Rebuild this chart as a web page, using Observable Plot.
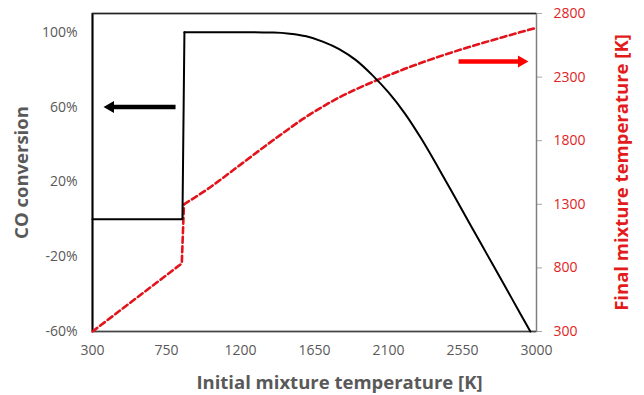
<!DOCTYPE html>
<html>
<head>
<meta charset="utf-8">
<script src="https://cdn.jsdelivr.net/npm/d3@7"></script>
<script src="https://cdn.jsdelivr.net/npm/@observablehq/plot@0.6"></script>
<style>
  body { margin: 0; background: #fff; }
</style>
</head>
<body>
<div id="chart"></div>
<script>
// CO conversion (left axis, %) versus initial mixture temperature [K]
const convTemp = [300, 847, 859, 1000, 1200, 1400, 1500, 1600, 1700, 1800, 1900, 2000, 2100, 2200, 2300, 2400, 2500, 2600, 2700, 2800, 2900, 2963];
const convValue = [0, 0, 100, 100, 100, 99.8, 99.2, 97.8, 95.0, 91.0, 85.2, 77.2, 67.8, 56.5, 43, 28, 12.4, -3.3, -18.9, -34.5, -50.2, -60];

// Final mixture temperature (right axis, K) versus initial mixture temperature [K]
const finalTempX = [300, 843, 856, 1000, 1200, 1400, 1600, 1800, 2000, 2200, 2400, 2600, 2800, 3000];
const finalTempK = [300, 835, 1300, 1420, 1612, 1805, 1988, 2140, 2260, 2365, 2458, 2540, 2616, 2688];

// Ignition jump: the lines are straight up to here and smooth after it
const jumpTop = 860;

// Axis ticks
const xTicks = [300, 750, 1200, 1650, 2100, 2550, 3000];
const leftTicks = [-60, -20, 20, 60, 100];
const rightTicks = [300, 800, 1300, 1800, 2300, 2800];

// Direction arrows pointing to each series' axis
const arrowSide = ["left", "right"];
const arrowTail = [805, 2526];
const arrowHeadBase = [420, 2900];
const arrowTip = [367, 2951];
const arrowLevel = [60, 2423];          // left arrow in %, right arrow in K

const leftDomain = [-60, 110];
const rightDomain = [300, 2800];
const k = (leftDomain[1] - leftDomain[0]) / (rightDomain[1] - rightDomain[0]);
const toLeft = (v) => leftDomain[0] + (v - rightDomain[0]) * k;
const fromLeft = (v) => rightDomain[0] + (v - leftDomain[0]) / k;

const conv = convTemp.map((t, i) => ({t, v: convValue[i]}));
const fin = finalTempX.map((t, i) => ({t, v: toLeft(finalTempK[i])}));
const arrows = arrowSide.map((side, i) => ({
  side,
  tail: arrowTail[i],
  base: arrowHeadBase[i],
  tip: arrowTip[i],
  y: side === "left" ? arrowLevel[i] : toLeft(arrowLevel[i]),
  color: side === "left" ? "#000" : "#ff0000"
}));

const grey = "#595959";
const red = "#e3131b";
const titleFont = 18.5;

const chart = Plot.plot({
  width: 644,
  height: 395,
  marginLeft: 92,
  marginRight: 108,
  marginTop: 13,
  marginBottom: 64,
  style: {fontFamily: "'Open Sans', sans-serif", fontSize: "14px", color: grey, background: "#fff"},
  x: {domain: [300, 3000]},
  y: {domain: leftDomain},
  marks: [
    Plot.axisX({ticks: xTicks, tickSize: 0, tickPadding: 14, tickFormat: (d) => String(d), label: null, fill: grey}),
    Plot.axisY({ticks: leftTicks, tickSize: 0, tickPadding: 15, tickFormat: (d) => d + "%", label: null, fill: grey}),
    Plot.axisY({
      anchor: "right",
      ticks: rightTicks.map(toLeft),
      tickFormat: (v) => String(Math.round(fromLeft(v))),
      tickSize: 5,
      tickPadding: 12,
      fill: "#e02424",
      stroke: "#a6a6a6",
      label: null
    }),
    Plot.frame({stroke: "#7f7f7f", strokeWidth: 1.5}),
    Plot.ruleX([300], {stroke: "#000", strokeWidth: 2}),
    Plot.ruleY([110], {stroke: "#222", strokeWidth: 1.5}),
    Plot.ruleY([-60], {stroke: "#444", strokeWidth: 1.5}),
    // final temperature, dashed red
    Plot.line(fin.filter((d) => d.t <= jumpTop), {x: "t", y: "v", stroke: red, strokeWidth: 2.6, strokeDasharray: "6,3.5"}),
    Plot.line(fin.filter((d) => d.t >= 850), {x: "t", y: "v", stroke: red, strokeWidth: 2.6, strokeDasharray: "6,3.5", curve: "monotone-x"}),
    // CO conversion, solid black
    Plot.line(conv.filter((d) => d.t <= jumpTop), {x: "t", y: "v", stroke: "#000", strokeWidth: 2}),
    Plot.line(conv.filter((d) => d.t >= 855), {x: "t", y: "v", stroke: "#000", strokeWidth: 2, curve: "monotone-x"}),
    // arrow shafts and heads
    Plot.link(arrows, {x1: "tail", x2: "base", y1: "y", y2: "y", stroke: "color", strokeWidth: 4.5}),
    Plot.dot(arrows, {filter: (d) => d.side === "left", x: "tip", y: "y", fill: "color", stroke: null, symbol: "triangle2", r: 5.8, rotate: -90, dx: 7}),
    Plot.dot(arrows, {filter: (d) => d.side === "right", x: "tip", y: "y", fill: "color", stroke: null, symbol: "triangle2", r: 5.8, rotate: 90, dx: -7}),
    // axis titles
    Plot.text(["CO conversion"], {text: (d) => d, frameAnchor: "left", textAnchor: "middle", dx: -70, rotate: -90, fontWeight: "bold", fontSize: titleFont, fill: grey}),
    Plot.text(["Final mixture temperature [K]"], {text: (d) => d, frameAnchor: "right", textAnchor: "middle", dx: 86, rotate: -90, fontWeight: "bold", fontSize: titleFont, fill: "#e31b1b"}),
    Plot.text(["Initial mixture temperature [K]"], {text: (d) => d, frameAnchor: "bottom", lineAnchor: "middle", dy: 52, dx: 25, fontWeight: "bold", fontSize: titleFont, fill: grey})
  ]
});

document.getElementById("chart").appendChild(chart);
</script>
</body>
</html>
